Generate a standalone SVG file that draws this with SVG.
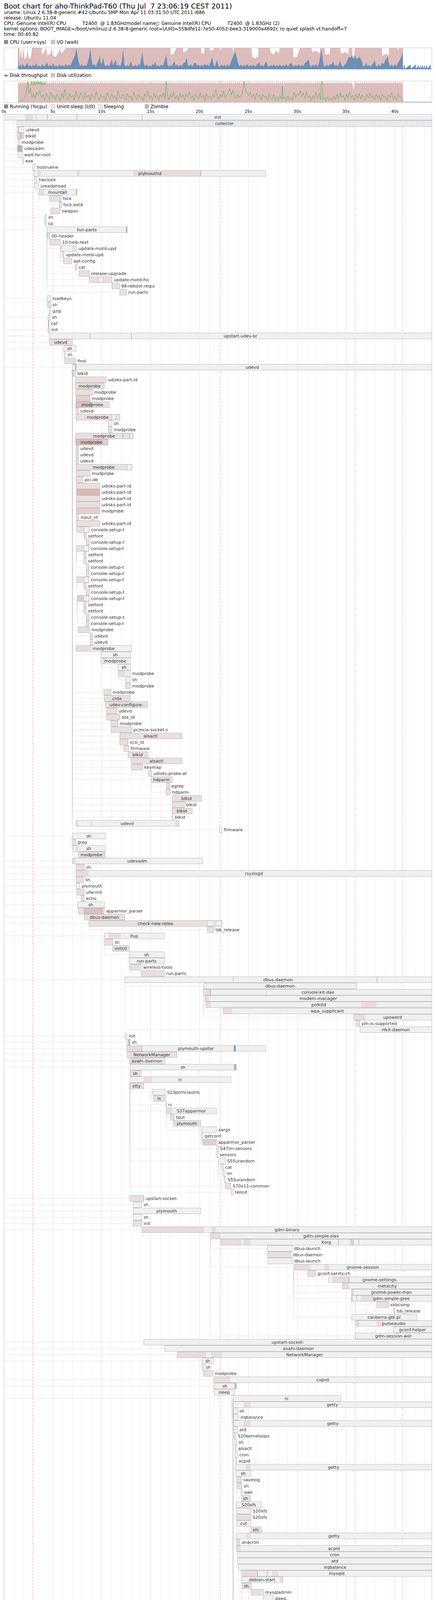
<svg xmlns="http://www.w3.org/2000/svg" width="1115" height="5356" viewBox="0 0 1115 5356">
<style>
text{font-family:"DejaVu Sans","Liberation Sans",sans-serif}
.h{font-size:12px;fill:#000}
.ti{font-size:18px;fill:#000}
.ax{font-size:10.5px;fill:#000;text-anchor:middle}
.l{font-size:11px;fill:#333}
.m{text-anchor:middle}
.e{text-anchor:end}
.b{fill:#f0f0f0;stroke:#bcbcbc}
.p{fill:#e9dfdf;stroke:#bcbcbc}
.q{fill:#e3cdcd;stroke:#bcbcbc}
.r{fill:#dbbaba;stroke:#bcbcbc}
.z{fill:#b4b4b4;stroke:#bcbcbc}
.sp{fill:#e8dcdc}
.sq{fill:#dcbfbf}
.sb{fill:#7c9cc0}
.sz{fill:#b8b8b8}
.c{fill:none;stroke:#c4c4c4;stroke-dasharray:2 2}
.g1{fill:none;stroke:#eeeeee}
.g5{fill:none;stroke:#dedede}
.an{fill:none;stroke:#e2a6a6;stroke-dasharray:5 3}
.fr{fill:none;stroke:#c6c6c6}
</style>
<defs>
<pattern id="col" width="9" height="16" patternUnits="userSpaceOnUse"><rect width="9" height="16" fill="#f0f0f0"/><path d="M2.5 0V16M6.5 0V16" stroke="#cad6e2"/></pattern>
<pattern id="saw" width="5" height="9" patternUnits="userSpaceOnUse"><path d="M0 9L1.5 1L3 6L4 3L5 9Z" fill="#ddbcbc"/></pattern>
</defs>
<rect width="1115" height="5356" fill="#fff"/>
<g id="header">
<text class="ti" x="10" y="22" xml:space="preserve">Boot chart for aho-ThinkPad-T60 (Thu Jul  7 23:06:19 CEST 2011)</text>
<text class="h" x="10" y="36">uname: Linux 2.6.38-8-generic #42-Ubuntu SMP Mon Apr 11 03:31:50 UTC 2011 i686</text>
<text class="h" x="10" y="50">release: Ubuntu 11.04</text>
<text class="h" x="10" y="64" xml:space="preserve">CPU: Genuine Intel(R) CPU           T2400  @ 1.83GHzmodel name▯: Genuine Intel(R) CPU           T2400  @ 1.83GHz (2)</text>
<text class="h" x="10" y="78">kernel options: BOOT_IMAGE=/boot/vmlinuz-2.6.38-8-generic root=UUID=558dfe12-7e50-4052-bee3-319000a4692c ro quiet splash vt.handoff=7</text>
<text class="h" x="10" y="92">time: 00:40.82</text>
</g>
<g id="cpu-chart">
<rect x="10.5" y="102.5" width="10" height="10" fill="#6b8fb5" stroke="#bcbcbc"/>
<text class="h" x="25" y="112">CPU (user+sys)</text>
<rect x="130.5" y="102.5" width="10" height="10" fill="#ddbcbc" stroke="#bcbcbc"/>
<text class="h" x="145" y="112">I/O (wait)</text>
<path class="g1" d="M35.5 122V177M60.5 122V177M85.5 122V177M110.5 122V177M160.5 122V177M185.5 122V177M210.5 122V177M235.5 122V177M285.5 122V177M310.5 122V177M335.5 122V177M360.5 122V177M410.5 122V177M435.5 122V177M460.5 122V177M485.5 122V177M535.5 122V177M560.5 122V177M585.5 122V177M610.5 122V177M660.5 122V177M685.5 122V177M710.5 122V177M735.5 122V177M785.5 122V177M810.5 122V177M835.5 122V177M860.5 122V177M910.5 122V177M935.5 122V177M960.5 122V177M985.5 122V177M1035.5 122V177M1060.5 122V177M1085.5 122V177"/>
<path class="g5" d="M135.5 122V177M260.5 122V177M385.5 122V177M510.5 122V177M635.5 122V177M760.5 122V177M885.5 122V177M1010.5 122V177"/>
<path fill="#ddbcbc" d="M46,177 L46,123 50,123 50,150 54,124 56,150 61,124 63,152 68,145 71,124 73,148 78,150 82,123 107,123 107,140 112,135 118,123 121,142 128,138 132,123 134,140 142,146 150,133 154,123 156,136 162,132 168,123 436,123 437,140 444,138 451,123 468,123 469,134 475,132 482,123 514,123 515,137 522,136 523,123 536,123 537,128 544,130 547,123 562,123 563,131 566,123 595,123 596,134 598,123 643,123 645,146 652,149 660,145 661,123 690,123 692,134 700,140 706,128 712,138 716,123 749,123 751,148 760,145 767,123 797,123 799,134 808,130 818,136 819,123 830,123 832,140 843,138 844,123 870,123 872,137 882,133 891,139 892,123 901,123 902,157 906,150 907,123 976,123 978,143 986,138 994,142 995,123 1017,123 1018,130 1020,123 1030,123 1030,177 Z"/>
<path fill="#6b8fb5" d="M46,177 L46,123 48,170 52,165 55,172 58,163 62,171 66,168 70,160 73,171 77,166 81,172 84,165 88,170 92,162 96,171 100,167 104,172 108,164 112,170 116,168 120,160 124,171 128,166 132,170 136,162 140,171 144,167 148,172 152,164 156,170 160,166 164,172 168,163 172,170 176,165 180,168 184,160 188,150 192,140 195,124 198,142 201,158 205,170 209,164 213,171 217,166 221,170 225,158 228,145 231,124 234,150 237,168 241,164 245,171 249,160 252,155 255,142 258,165 261,160 264,147 267,166 271,170 275,165 279,171 283,160 286,150 289,168 293,160 296,152 299,169 303,165 307,171 311,160 315,126 318,165 322,171 326,166 330,170 335,157 338,168 342,171 346,165 350,170 354,164 358,168 361,150 364,133 367,160 371,170 375,165 379,171 383,167 387,170 391,163 394,168 397,157 400,170 404,166 408,171 412,165 416,170 420,160 425,140 428,165 432,171 436,166 440,170 443,162 446,157 449,169 453,165 457,171 461,166 465,170 469,162 473,160 477,147 480,166 484,170 488,164 492,171 496,162 500,160 503,169 507,165 511,171 515,166 519,170 523,163 527,168 531,165 535,170 539,158 543,147 546,166 550,170 555,153 558,168 562,171 566,165 570,170 574,166 578,171 582,165 586,170 590,160 594,150 598,140 602,133 605,145 608,158 612,170 616,165 620,171 624,166 628,170 632,164 636,171 640,166 644,170 648,165 652,171 656,167 660,162 663,160 666,170 670,166 674,171 678,162 681,157 684,168 688,171 692,166 696,170 700,165 704,171 708,166 712,170 716,165 720,171 724,166 728,170 732,164 736,171 740,165 745,160 748,168 752,171 756,165 760,170 764,164 768,171 772,165 776,170 780,162 784,158 789,152 792,166 796,171 800,165 804,170 808,164 812,171 816,160 819,145 822,124 825,150 828,168 832,171 836,165 840,170 844,164 848,166 852,157 856,170 860,165 864,171 868,160 870,157 874,168 878,171 882,165 886,160 890,150 893,145 896,148 900,142 904,150 907,140 910,147 914,152 918,145 922,150 925,155 928,168 932,171 936,160 940,170 944,166 948,171 952,165 956,160 958,153 961,168 965,171 969,165 973,170 977,160 981,165 985,155 988,150 991,143 994,160 998,170 1002,165 1006,171 1010,164 1014,170 1018,160 1022,155 1026,145 1030,133 1031,176 1035,165 1036,176 1050,165 1051,176 1063,165 1064,176 1070,166 1071,176 1075,166 1076,176 1081,165 1082,176 1086,166 1087,176 1092,165 1093,176 1101,165 1102,176 1104,177 Z"/>
<path class="an" d="M84 122V177M564 122V177M908 122V177M1030 122V177"/>
<rect class="fr" x="10.5" y="122.5" width="1094" height="55"/>
</g>
<g id="disk-chart">
<path d="M10 193.5H21" stroke="#33b533" stroke-width="2"/><rect x="13" y="191" width="5" height="5" fill="#33b533"/>
<text class="h" x="25" y="197">Disk throughput</text>
<rect x="130.5" y="187.5" width="10" height="10" fill="#ddbcbc" stroke="#bcbcbc"/>
<text class="h" x="145" y="197">Disk utilization</text>
<path class="g1" d="M35.5 207V262M60.5 207V262M85.5 207V262M110.5 207V262M160.5 207V262M185.5 207V262M210.5 207V262M235.5 207V262M285.5 207V262M310.5 207V262M335.5 207V262M360.5 207V262M410.5 207V262M435.5 207V262M460.5 207V262M485.5 207V262M535.5 207V262M560.5 207V262M585.5 207V262M610.5 207V262M660.5 207V262M685.5 207V262M710.5 207V262M735.5 207V262M785.5 207V262M810.5 207V262M835.5 207V262M860.5 207V262M910.5 207V262M935.5 207V262M960.5 207V262M985.5 207V262M1035.5 207V262M1060.5 207V262M1085.5 207V262"/>
<path class="g5" d="M135.5 207V262M260.5 207V262M385.5 207V262M510.5 207V262M635.5 207V262M760.5 207V262M885.5 207V262M1010.5 207V262"/>
<rect x="46" y="216" width="984" height="46" fill="#ddbcbc"/>
<rect x="46" y="208" width="984" height="9" fill="url(#saw)"/>
<path d="M901 208L904 233L907 208Z" fill="#fff"/>
<polyline fill="none" stroke="#4cb84c" stroke-width="1" points="46,261 52,259 58,255 64,248 68,230 71,207 74,240 78,226 82,250 86,238 90,252 94,235 98,245 102,232 106,250 110,242 114,256 118,238 122,247 126,254 130,236 134,249 138,243 142,255 146,240 150,248 154,257 158,239 162,251 166,229 170,246 174,255 178,240 182,250 186,244 190,256 194,232 198,249 202,253 206,238 210,247 214,255 218,236 222,250 226,243 230,257 234,240 238,248 242,253 246,235 250,249 254,256 258,241 262,251 266,246 270,258 274,237 278,249 282,254 286,240 290,252 294,244 298,257 302,232 306,249 310,253 314,241 318,248 322,256 326,239 330,250 334,245 338,257 342,236 346,248 350,254 354,242 358,251 362,247 366,258 370,240 374,249 378,233 382,252 386,245 390,256 394,239 398,250 402,244 406,257 410,241 414,249 418,238 422,253 425,207 428,246 432,255 436,240 440,250 444,236 448,253 452,244 456,257 460,238 464,250 468,243 472,256 476,240 480,249 484,235 488,252 492,245 496,258 500,240 504,249 508,253 512,237 516,250 520,244 524,257 528,239 532,251 536,246 540,255 544,241 548,249 552,229 556,246 560,254 564,240 568,249 572,232 576,252 580,244 584,238 588,226 592,244 596,231 600,250 604,253 608,241 612,250 616,245 620,236 624,207 628,232 632,240 636,245 640,236 644,250 648,241 652,255 656,238 660,248 664,243 668,256 672,240 676,250 680,245 684,257 688,240 692,250 696,253 700,242 704,257 708,248 712,258 716,245 720,255 722,220 724,255 728,248 732,258 736,246 740,255 744,248 748,258 752,236 756,250 760,240 764,245 768,232 772,248 776,238 780,251 784,236 788,250 792,245 796,258 800,245 804,253 808,236 812,252 816,238 820,255 822,207 824,207 826,256 830,250 834,258 838,248 842,257 846,250 850,258 854,246 858,255 862,241 866,252 870,238 874,250 878,244 882,257 886,240 890,252 894,236 898,250 902,244 906,256 910,242 914,252 918,239 922,254 926,243 930,249 934,257 938,241 942,252 946,238 950,250 954,245 958,256 962,240 966,252 970,244 974,257 978,241 982,250 986,246 990,258 994,242 998,250 1002,236 1006,254 1010,245 1014,257 1018,239 1022,250 1026,248 1030,261 1105,261"/>
<text x="77" y="217" font-size="11" fill="#33b533">18MB/s</text>
<path class="an" d="M84 207V262M564 207V262M908 207V262M1030 207V262"/>
<rect class="fr" x="10.5" y="207.5" width="1094" height="55"/>
</g>
<g id="process-legend">
<rect x="10.5" y="267.5" width="10" height="10" fill="#6b8fb5" stroke="#bcbcbc"/><text class="h" x="25" y="277">Running (%cpu)</text>
<rect x="130.5" y="267.5" width="10" height="10" fill="#f2e6e6" stroke="#bcbcbc"/><text class="h" x="145" y="277">Unint.sleep (I/O)</text>
<rect x="250.5" y="267.5" width="10" height="10" fill="#ececec" stroke="#bcbcbc"/><text class="h" x="265" y="277">Sleeping</text>
<rect x="370.5" y="267.5" width="10" height="10" fill="#b4b4b4" stroke="#bcbcbc"/><text class="h" x="385" y="277">Zombie</text>
</g>
<g id="time-axis">
<text class="ax" x="10" y="289">0s</text><text class="ax" x="135" y="289">5s</text><text class="ax" x="260" y="289">10s</text><text class="ax" x="385" y="289">15s</text><text class="ax" x="510" y="289">20s</text><text class="ax" x="635" y="289">25s</text><text class="ax" x="760" y="289">30s</text><text class="ax" x="885" y="289">35s</text><text class="ax" x="1010" y="289">40s</text>
<path class="g1" d="M35.5 292V5348M60.5 292V5348M85.5 292V5348M110.5 292V5348M160.5 292V5348M185.5 292V5348M210.5 292V5348M235.5 292V5348M285.5 292V5348M310.5 292V5348M335.5 292V5348M360.5 292V5348M410.5 292V5348M435.5 292V5348M460.5 292V5348M485.5 292V5348M535.5 292V5348M560.5 292V5348M585.5 292V5348M610.5 292V5348M660.5 292V5348M685.5 292V5348M710.5 292V5348M735.5 292V5348M785.5 292V5348M810.5 292V5348M835.5 292V5348M860.5 292V5348M910.5 292V5348M935.5 292V5348M960.5 292V5348M985.5 292V5348M1035.5 292V5348M1060.5 292V5348M1085.5 292V5348"/>
<path class="g5" d="M135.5 292V5348M260.5 292V5348M385.5 292V5348M510.5 292V5348M635.5 292V5348M760.5 292V5348M885.5 292V5348M1010.5 292V5348"/>
<path class="an" d="M84 292V5348M564 292V5348M908 292V5348M1030 292V5348"/>
</g>
<g id="connectors">
<path class="c" d="M44,316H10"/><path class="c" d="M44,332H10"/><path class="c" d="M44,348H41V336H44"/><path class="c" d="M46,364H41V336H44"/><path class="c" d="M44,380H10"/><path class="c" d="M45,396H10"/><path class="c" d="M57,412H10"/><path class="c" d="M83,428H10"/><path class="c" d="M87,444H10"/><path class="c" d="M88,460H10"/><path class="c" d="M88,476H10"/><path class="c" d="M99,492H10"/><path class="c" d="M126,508H99V500"/><path class="c" d="M151,524H126V516"/><path class="c" d="M129,540H99V500"/><path class="c" d="M115,556H10"/><path class="c" d="M115,572H112V560H115"/><path class="c" d="M120,588H10"/><path class="c" d="M121,604H117V592H120"/><path class="c" d="M127,620H120V596"/><path class="c" d="M154,636H120V596"/><path class="c" d="M159,652H154V644"/><path class="c" d="M162,668H154V644"/><path class="c" d="M192,684H154V644"/><path class="c" d="M202,700H120V596"/><path class="c" d="M228,716H120V596"/><path class="c" d="M286,732H120V596"/><path class="c" d="M306,748H120V596"/><path class="c" d="M120,764H10"/><path class="c" d="M122,780H117V768H120"/><path class="c" d="M126,796H120V772"/><path class="c" d="M122,812H10"/><path class="c" d="M123,828H119V816H122"/><path class="c" d="M122,844H10"/><path class="c" d="M126,860H10"/><path class="c" d="M126,876H10"/><path class="c" d="M163,892H10"/><path class="c" d="M164,908H160V896H163"/><path class="c" d="M165,924H160V896H163"/><path class="c" d="M185,940H10"/><path class="c" d="M186,956H182V944H185"/>
<path class="c" d="M193,972H185V948"/><path class="c" d="M193,988H185V948"/><path class="c" d="M193,1004H185V948"/><path class="c" d="M194,1020H185V948"/><path class="c" d="M193,1036H185V948"/><path class="c" d="M194,1052H185V948"/><path class="c" d="M194,1068H185V948"/><path class="c" d="M277,1084H194V1076"/><path class="c" d="M277,1100H274V1088H277"/><path class="c" d="M193,1116H185V948"/><path class="c" d="M193,1132H185V948"/><path class="c" d="M194,1148H185V948"/><path class="c" d="M194,1164H185V948"/><path class="c" d="M194,1180H185V948"/><path class="c" d="M194,1196H185V948"/><path class="c" d="M194,1212H185V948"/><path class="c" d="M194,1228H185V948"/><path class="c" d="M195,1244H185V948"/><path class="c" d="M195,1260H185V948"/><path class="c" d="M195,1276H185V948"/><path class="c" d="M195,1292H185V948"/><path class="c" d="M195,1308H185V948"/><path class="c" d="M195,1324H185V948"/><path class="c" d="M195,1340H185V948"/><path class="c" d="M196,1356H185V948"/><path class="c" d="M214,1372H196V1364"/><path class="c" d="M220,1388H196V1364"/><path class="c" d="M195,1404H185V948"/><path class="c" d="M214,1420H195V1412"/><path class="c" d="M214,1436H195V1412"/><path class="c" d="M220,1452H195V1412"/><path class="c" d="M220,1468H195V1412"/><path class="c" d="M196,1484H185V948"/><path class="c" d="M214,1500H196V1492"/><path class="c" d="M220,1516H196V1492"/><path class="c" d="M197,1532H185V948"/><path class="c" d="M214,1548H197V1540"/><path class="c" d="M214,1564H197V1540"/><path class="c" d="M220,1580H197V1540"/><path class="c" d="M220,1596H197V1540"/><path class="c" d="M199,1612H185V948"/><path class="c" d="M230,1628H185V948"/><path class="c" d="M230,1644H185V948"/><path class="c" d="M194,1660H185V948"/><path class="c" d="M258,1676H194V1668"/><path class="c" d="M258,1692H255V1680H258"/><path class="c" d="M301,1708H258V1700"/><path class="c" d="M302,1724H298V1712H301"/><path class="c" d="M321,1740H302V1732"/><path class="c" d="M321,1756H318V1744H321"/>
<path class="c" d="M265,1772H185V948"/><path class="c" d="M266,1788H185V948"/><path class="c" d="M269,1804H185V948"/><path class="c" d="M272,1820H185V948"/><path class="c" d="M272,1836H185V948"/><path class="c" d="M283,1852H185V948"/><path class="c" d="M284,1868H185V948"/><path class="c" d="M306,1884H185V948"/><path class="c" d="M306,1900H185V948"/><path class="c" d="M316,1916H185V948"/><path class="c" d="M327,1932H185V948"/><path class="c" d="M336,1948H185V948"/><path class="c" d="M336,1964H185V948"/><path class="c" d="M379,1980H185V948"/><path class="c" d="M387,1996H185V948"/><path class="c" d="M425,2012H387V2004"/><path class="c" d="M424,2028H387V2004"/><path class="c" d="M440,2044H185V948"/><path class="c" d="M440,2060H185V948"/><path class="c" d="M440,2076H185V948"/><path class="c" d="M440,2092H185V948"/><path class="c" d="M194,2108H185V948"/><path class="c" d="M561,2124H185V948"/>
<path class="c" d="M185,2140H10"/><path class="c" d="M185,2156H182V2144H185"/><path class="c" d="M185,2172H182V2144H185"/><path class="c" d="M200,2188H185V2180"/><path class="c" d="M185,2204H10"/><path class="c" d="M194,2220H10"/><path class="c" d="M194,2236H10"/><path class="c" d="M194,2252H10"/><path class="c" d="M194,2268H10"/><path class="c" d="M196,2284H10"/><path class="c" d="M207,2300H196V2292"/><path class="c" d="M198,2316H10"/><path class="c" d="M200,2332H195V2320H198"/><path class="c" d="M215,2348H10"/><path class="c" d="M227,2364H10"/><path class="c" d="M530,2380H227V2372"/><path class="c" d="M267,2396H10"/><path class="c" d="M267,2412H264V2400H267"/><path class="c" d="M288,2428H267V2420"/><path class="c" d="M331,2444H267V2404"/><path class="c" d="M331,2460H328V2448H331"/><path class="c" d="M331,2476H328V2464H331"/><path class="c" d="M362,2492H331V2484"/><path class="c" d="M319,2508H10"/><path class="c" d="M521,2524H319V2516"/><path class="c" d="M521,2540H518V2528H521"/><path class="c" d="M524,2556H521V2532"/><path class="c" d="M526,2572H521V2532"/><path class="c" d="M570,2588H521V2532"/><path class="c" d="M904,2604H521V2532"/><path class="c" d="M911,2620H904V2612"/><path class="c" d="M920,2636H319V2516"/><path class="c" d="M319,2652H10"/><path class="c" d="M324,2668H10"/><path class="c" d="M324,2684H10"/><path class="c" d="M325,2700H10"/><path class="c" d="M331,2716H10"/><path class="c" d="M332,2732H10"/><path class="c" d="M332,2748H329V2736H332"/><path class="c" d="M332,2764H329V2752H332"/><path class="c" d="M332,2780H329V2768H332"/><path class="c" d="M390,2796H332V2772"/><path class="c" d="M392,2812H387V2800H390"/><path class="c" d="M424,2828H332V2772"/><path class="c" d="M425,2844H332V2772"/><path class="c" d="M435,2860H425V2852"/><path class="c" d="M443,2876H425V2852"/><path class="c" d="M515,2892H425V2852"/><path class="c" d="M515,2908H512V2896H515"/><path class="c" d="M518,2924H515V2900"/><path class="c" d="M554,2940H332V2772"/><path class="c" d="M554,2956H551V2944H554"/><path class="c" d="M558,2972H332V2772"/><path class="c" d="M567,2988H558V2980"/><path class="c" d="M570,3004H558V2980"/><path class="c" d="M573,3020H558V2980"/><path class="c" d="M576,3036H332V2772"/><path class="c" d="M591,3052H332V2772"/>
<path class="c" d="M331,3068H10"/><path class="c" d="M340,3084H10"/><path class="c" d="M340,3100H10"/><path class="c" d="M340,3116H10"/><path class="c" d="M340,3132H10"/><path class="c" d="M363,3148H10"/><path class="c" d="M538,3164H363V3156"/><path class="c" d="M564,3180H538V3172"/><path class="c" d="M683,3196H538V3172"/><path class="c" d="M684,3212H680V3200H683"/><path class="c" d="M685,3228H680V3200H683"/><path class="c" d="M751,3244H538V3172"/><path class="c" d="M787,3260H751V3252"/><path class="c" d="M840,3276H751V3252"/><path class="c" d="M875,3292H751V3252"/><path class="c" d="M898,3308H751V3252"/><path class="c" d="M898,3324H751V3252"/><path class="c" d="M963,3340H898V3332"/><path class="c" d="M1006,3356H898V3332"/><path class="c" d="M899,3372H751V3252"/><path class="c" d="M910,3388H899V3380"/><path class="c" d="M1006,3404H910V3396"/><path class="c" d="M908,3420H538V3172"/><path class="c" d="M367,3436H10"/><path class="c" d="M421,3452H10"/><path class="c" d="M453,3468H10"/><path class="c" d="M517,3484H10"/><path class="c" d="M517,3500H514V3488H517"/><path class="c" d="M520,3516H517V3508"/><path class="c" d="M546,3532H10"/><path class="c" d="M547,3548H10"/><path class="c" d="M547,3564H544V3552H547"/><path class="c" d="M596,3580H10"/>
<path class="c" d="M596,3596H593V3584H596"/><path class="c" d="M597,3612H593V3584H596"/><path class="c" d="M597,3628H594V3616H597"/><path class="c" d="M597,3644H593V3584H596"/><path class="c" d="M598,3660H593V3584H596"/><path class="c" d="M599,3676H596V3588"/><path class="c" d="M600,3692H596V3680H599"/><path class="c" d="M601,3708H596V3588"/><path class="c" d="M601,3724H596V3588"/><path class="c" d="M602,3740H596V3588"/><path class="c" d="M602,3756H596V3588"/><path class="c" d="M603,3772H596V3588"/><path class="c" d="M605,3788H600V3776H603"/><path class="c" d="M605,3804H600V3776H603"/><path class="c" d="M616,3820H605V3812"/><path class="c" d="M617,3836H605V3812"/><path class="c" d="M604,3852H596V3588"/><path class="c" d="M605,3868H601V3856H604"/><path class="c" d="M605,3884H602V3872H605"/><path class="c" d="M605,3900H602V3888H605"/><path class="c" d="M641,3916H605V3892"/><path class="c" d="M604,3932H596V3588"/><path class="c" d="M604,3948H596V3588"/><path class="c" d="M604,3964H596V3588"/><path class="c" d="M607,3980H596V3588"/><path class="c" d="M607,3996H596V3588"/><path class="c" d="M609,4012H596V3588"/><path class="c" d="M617,4028H596V3588"/><path class="c" d="M618,4044H596V3588"/><path class="c" d="M618,4060H615V4048H618"/><path class="c" d="M642,4076H618V4068"/><path class="c" d="M673,4092H618V4068"/><path class="c" d="M698,4108H618V4068"/><path class="c" d="M668,4124H596V3588"/><path class="c" d="M671,4140H596V3588"/><path class="c" d="M675,4156H596V3588"/><path class="c" d="M679,4172H596V3588"/><path class="c" d="M683,4188H596V3588"/><path class="c" d="M686,4204H683V4196"/><path class="c" d="M686,4220H683V4208H686"/><path class="c" d="M696,4236H596V3588"/><path class="c" d="M716,4252H696V4244"/><path class="c" d="M718,4268H713V4256H716"/><path class="c" d="M723,4284H596V3588"/><path class="c" d="M723,4300H720V4288H723"/><path class="c" d="M747,4316H723V4308"/><path class="c" d="M750,4332H747V4324"/><path class="c" d="M750,4348H747V4336H750"/><path class="c" d="M755,4364H750V4356"/><path class="c" d="M747,4380H723V4308"/><path class="c" d="M747,4396H723V4308"/><path class="c" d="M771,4412H723V4308"/><path class="c" d="M788,4428H723V4308"/><path class="c" d="M788,4444H723V4308"/><path class="c" d="M804,4460H788V4452"/><path class="c" d="M824,4476H723V4308"/><path class="c" d="M745,4492H596V3588"/><path class="c" d="M807,4508H745V4500"/><path class="c" d="M807,4524H804V4512H807"/><path class="c" d="M870,4540H745V4500"/><path class="c" d="M763,4556H596V3588"/><path class="c" d="M763,4572H596V3588"/><path class="c" d="M768,4588H763V4580"/><path class="c" d="M769,4604H765V4592H768"/><path class="c" d="M789,4620H769V4612"/><path class="c" d="M800,4636H789V4628"/><path class="c" d="M800,4652H797V4640H800"/><path class="c" d="M800,4668H797V4640H800"/><path class="c" d="M822,4684H789V4628"/><path class="c" d="M822,4700H789V4628"/><path class="c" d="M853,4716H789V4628"/><path class="c" d="M858,4732H596V3588"/><path class="c" d="M861,4748H858V4740"/><path class="c" d="M867,4764H596V3588"/><path class="c" d="M867,4780H864V4768H867"/><path class="c" d="M869,4796H596V3588"/>
<path class="c" d="M872,4812H10"/><path class="c" d="M872,4828H869V4816H872"/><path class="c" d="M872,4844H10"/><path class="c" d="M872,4860H10"/><path class="c" d="M936,4876H10"/><path class="c" d="M937,4892H933V4880H936"/><path class="c" d="M939,4908H934V4896H937"/><path class="c" d="M940,4924H933V4880H936"/><path class="c" d="M940,4940H933V4880H936"/><path class="c" d="M1014,4956H10"/><path class="c" d="M1021,4972H10"/>
<path class="c" d="M10,5004H7V4992H10"/><path class="c" d="M10,5020H7V4992H10"/><path class="c" d="M10,5036H7V4992H10"/><path class="c" d="M11,5052H7V4992H10"/><path class="c" d="M16,5068H10V4996"/><path class="c" d="M18,5084H10V4996"/><path class="c" d="M23,5100H10V4996"/><path class="c" d="M264,5116H23V5108"/><path class="c" d="M297,5132H23V5108"/><path class="c" d="M297,5148H294V5136H297"/><path class="c" d="M41,5164H10V4996"/><path class="c" d="M60,5180H10V4996"/><path class="c" d="M264,5196H10V4996"/><path class="c" d="M265,5212H10V4996"/><path class="c" d="M266,5228H10V4996"/><path class="c" d="M282,5244H10V4996"/><path class="c" d="M297,5260H10V4996"/><path class="c" d="M297,5276H10V4996"/><path class="c" d="M315,5292H10V4996"/><path class="c" d="M316,5308H10V4996"/><path class="c" d="M326,5324H10V4996"/><path class="c" d="M336,5340H10V4996"/>
</g>
<g id="processes">
<g id="p292"><rect class="b" x="10.5" y="292.5" width="1094" height="15"/><rect class="sp" x="64" y="293" width="20" height="14"/><rect class="sp" x="90" y="293" width="4" height="14"/><rect class="sb" x="120" y="293" width="1" height="14"/><rect class="sb" x="196" y="293" width="1" height="14"/><rect class="sb" x="363" y="293" width="1" height="14"/><text class="l m" x="557" y="304">init</text></g>
<g id="p308"><rect x="43.5" y="308.5" width="1061" height="15" fill="url(#col)" stroke="#bcbcbc"/><text class="l m" x="574" y="320">collector</text></g>
<g id="p324"><rect class="b" x="44.5" y="324.5" width="17" height="15"/><rect class="sb" x="47" y="325" width="1" height="14"/><text class="l" x="66" y="336">udevd</text></g>
<g id="p340"><rect class="p" x="44.5" y="340.5" width="16" height="15"/><rect class="sq" x="49" y="341" width="8" height="14"/><text class="l" x="65" y="352">blkid</text></g>
<g id="p356"><rect class="b" x="46.5" y="356.5" width="4" height="15"/><text class="l" x="55" y="368">modprobe</text></g>
<g id="p372"><rect class="z" x="44.5" y="372.5" width="13" height="15"/><text class="l" x="62" y="384">udevadm</text></g>
<g id="p388"><rect class="b" x="45.5" y="388.5" width="12" height="15"/><text class="l" x="62" y="400">wait-for-root</text></g>
<g id="p404"><rect class="b" x="57.5" y="404.5" width="3" height="15"/><text class="l" x="65" y="416">exe</text></g>
<g id="p420"><rect class="b" x="83.5" y="420.5" width="6" height="15"/><text class="l" x="94" y="432">hostname</text></g>
<g id="p436"><rect class="b" x="87.5" y="436.5" width="592" height="15"/><rect class="sp" x="96" y="437" width="8" height="14"/><rect class="sp" x="196" y="437" width="8" height="14"/><rect class="sp" x="341" y="437" width="172" height="14"/><rect class="sb" x="370" y="437" width="1" height="14"/><rect class="sb" x="513" y="437" width="1" height="14"/><text class="l m" x="383" y="448">plymouthd</text></g>
<g id="p452"><rect class="b" x="88.5" y="452.5" width="6" height="15"/><text class="l" x="99" y="464">hwclock</text></g>
<g id="p468"><rect class="b" x="88.5" y="468.5" width="10" height="15"/><text class="l" x="103" y="480">ureadahead</text></g>
<g id="p484"><rect class="b" x="99.5" y="484.5" width="97" height="15"/><rect class="sp" x="100" y="485" width="12" height="14"/><rect class="sp" x="157" y="485" width="8" height="14"/><rect class="sz" x="194" y="485" width="2" height="14"/><text class="l m" x="147" y="496">mountall</text></g>
<g id="p500"><rect class="p" x="126.5" y="500.5" width="30" height="15"/><rect class="b" x="152" y="501" width="4" height="14" stroke="none"/><text class="l" x="161" y="512">fsck</text></g>
<g id="p516"><rect class="p" x="151.5" y="516.5" width="6" height="15"/><text class="l" x="162" y="528">fsck.ext4</text></g>
<g id="p532"><rect class="p" x="129.5" y="532.5" width="24" height="15"/><text class="l" x="158" y="544">swapon</text></g>
<g id="p548"><rect class="b" x="115.5" y="548.5" width="3" height="15"/><text class="l" x="123" y="560">sh</text></g>
<g id="p564"><rect class="b" x="115.5" y="564.5" width="3" height="15"/><text class="l" x="123" y="576">cp</text></g>
<g id="p580"><rect class="b" x="120.5" y="580.5" width="205" height="15"/><rect class="sp" x="196" y="581" width="6" height="14"/><rect class="sz" x="322" y="581" width="3" height="14"/><text class="l m" x="222" y="592">run-parts</text></g>
<g id="p596"><rect class="p" x="121.5" y="596.5" width="6" height="15"/><text class="l" x="132" y="608">00-header</text></g>
<g id="p612"><rect class="p" x="127.5" y="612.5" width="27" height="15"/><text class="l" x="159" y="624">10-help-text</text></g>
<g id="p628"><rect class="b" x="154.5" y="628.5" width="42" height="15"/><rect class="sp" x="155" y="629" width="5" height="14"/><rect class="sp" x="185" y="629" width="8" height="14"/><text class="l" x="201" y="640">update-motd-upd</text></g>
<g id="p644"><rect class="p" x="159.5" y="644.5" width="4" height="15"/><text class="l" x="168" y="656">update-motd-upd</text></g>
<g id="p660"><rect class="p" x="162.5" y="660.5" width="21" height="15"/><text class="l" x="188" y="672">apt-config</text></g>
<g id="p676"><rect class="p" x="192.5" y="676.5" width="4" height="15"/><text class="l" x="201" y="688">cat</text></g>
<g id="p692"><rect class="p" x="202.5" y="692.5" width="26" height="15"/><text class="l" x="233" y="704">release-upgrade</text></g>
<g id="p708"><rect class="p" x="228.5" y="708.5" width="58" height="15"/><rect class="b" x="252" y="709" width="12" height="14" stroke="none"/><text class="l" x="291" y="720">update-motd-fsc</text></g>
<g id="p724"><rect class="p" x="286.5" y="724.5" width="19" height="15"/><text class="l" x="310" y="736">98-reboot-requi</text></g>
<g id="p740"><rect class="p" x="306.5" y="740.5" width="17" height="15"/><text class="l" x="328" y="752">run-parts</text></g>
<g id="p756"><rect class="b" x="120.5" y="756.5" width="9" height="15"/><text class="l" x="134" y="768">loadkeys</text></g>
<g id="p772"><rect class="p" x="122.5" y="772.5" width="7" height="15"/><text class="l" x="134" y="784">sh</text></g>
<g id="p788"><rect class="b" x="126.5" y="788.5" width="3" height="15"/><text class="l" x="134" y="800">gzip</text></g>
<g id="p804"><rect class="p" x="122.5" y="804.5" width="6" height="15"/><text class="l" x="133" y="816">sh</text></g>
<g id="p820"><rect class="z" x="123.5" y="820.5" width="2" height="15"/><text class="l" x="130" y="832">cat</text></g>
<g id="p836"><rect class="p" x="122.5" y="836.5" width="4" height="15"/><text class="l" x="131" y="848">init</text></g>
<g id="p852"><rect class="b" x="126.5" y="852.5" width="978" height="15"/><rect class="sb" x="230" y="853" width="1" height="14"/><rect class="sb" x="336" y="853" width="1" height="14"/><text class="l m" x="615" y="864">upstart-udev-br</text></g>
<g id="p868"><rect class="p" x="126.5" y="868.5" width="59" height="15"/><text class="l m" x="155" y="880">udevd</text></g>
<g id="p884"><rect class="b" x="163.5" y="884.5" width="31" height="15"/><text class="l m" x="178" y="896">sh</text></g>
<g id="p900"><rect class="b" x="164.5" y="900.5" width="3" height="15"/><text class="l" x="172" y="912">sh</text></g>
<g id="p916"><rect class="p" x="165.5" y="916.5" width="28" height="15"/><text class="l" x="198" y="928">find</text></g>
<g id="p932"><rect class="b" x="185.5" y="932.5" width="919" height="15"/><rect class="sb" x="193" y="933" width="2" height="14"/><text class="l m" x="645" y="944">udevd</text></g>
<g id="p948"><rect class="p" x="186.5" y="948.5" width="7" height="15"/><text class="l" x="198" y="960">blkid</text></g>
<g id="p964"><rect class="p" x="193.5" y="964.5" width="78" height="15"/><text class="l" x="276" y="976">udisks-part-id</text></g>
<g id="p980"><rect class="p" x="193.5" y="980.5" width="73" height="15"/><text class="l m" x="229" y="992">modprobe</text></g>
<g id="p996"><rect class="p" x="193.5" y="996.5" width="43" height="15"/><text class="l" x="241" y="1008">modprobe</text></g>
<g id="p1012"><rect class="q" x="194.5" y="1012.5" width="36" height="15"/><text class="l" x="235" y="1024">modprobe</text></g>
<g id="p1028"><rect class="p" x="193.5" y="1028.5" width="86" height="15"/><rect class="sq" x="194" y="1029" width="43" height="14"/><text class="l m" x="236" y="1040">modprobe</text></g>
<g id="p1044"><rect class="p" x="194.5" y="1044.5" width="6" height="15"/><text class="l" x="205" y="1056">udevd</text></g>
<g id="p1060"><rect class="p" x="194.5" y="1060.5" width="112" height="15"/><rect class="b" x="286" y="1061" width="10" height="14" stroke="none"/><text class="l m" x="250" y="1072">modprobe</text></g>
<g id="p1076"><rect class="b" x="277.5" y="1076.5" width="9" height="15"/><text class="l" x="291" y="1088">sh</text></g>
<g id="p1092"><rect class="p" x="277.5" y="1092.5" width="9" height="15"/><text class="l" x="291" y="1104">modprobe</text></g>
<g id="p1108"><rect class="p" x="193.5" y="1108.5" width="147" height="15"/><rect class="sb" x="314" y="1109" width="1" height="14"/><rect class="sb" x="331" y="1109" width="1" height="14"/><rect class="b" x="332" y="1109" width="8" height="14" stroke="none"/><text class="l m" x="266" y="1120">modprobe</text></g>
<g id="p1124"><rect class="r" x="193.5" y="1124.5" width="83" height="15"/><rect class="q" x="260" y="1125" width="16" height="14" stroke="none"/><text class="l m" x="234" y="1136">modprobe</text></g>
<g id="p1140"><rect class="p" x="194.5" y="1140.5" width="6" height="15"/><text class="l" x="205" y="1152">udevd</text></g>
<g id="p1156"><rect class="p" x="194.5" y="1156.5" width="6" height="15"/><text class="l" x="205" y="1168">udevd</text></g>
<g id="p1172"><rect class="p" x="194.5" y="1172.5" width="6" height="15"/><text class="l" x="205" y="1184">udevd</text></g>
<g id="p1188"><rect class="p" x="194.5" y="1188.5" width="143" height="15"/><rect class="b" x="325" y="1189" width="12" height="14" stroke="none"/><text class="l m" x="265" y="1200">modprobe</text></g>
<g id="p1204"><rect class="p" x="194.5" y="1204.5" width="36" height="15"/><text class="l" x="235" y="1216">modprobe</text></g>
<g id="p1220"><rect class="p" x="194.5" y="1220.5" width="18" height="15"/><text class="l" x="217" y="1232">pci-db</text></g>
<g id="p1236"><rect class="p" x="195.5" y="1236.5" width="60" height="15"/><text class="l" x="260" y="1248">udisks-part-id</text></g>
<g id="p1252"><rect class="r" x="195.5" y="1252.5" width="60" height="15"/><text class="l" x="260" y="1264">udisks-part-id</text></g>
<g id="p1268"><rect class="p" x="195.5" y="1268.5" width="60" height="15"/><text class="l" x="260" y="1280">udisks-part-id</text></g>
<g id="p1284"><rect class="p" x="195.5" y="1284.5" width="60" height="15"/><text class="l" x="260" y="1296">udisks-part-id</text></g>
<g id="p1300"><rect class="q" x="195.5" y="1300.5" width="60" height="15"/><text class="l" x="260" y="1312">modprobe</text></g>
<g id="p1316"><rect class="p" x="195.5" y="1316.5" width="6" height="15"/><text class="l" x="206" y="1328">input_id</text></g>
<g id="p1332"><rect class="p" x="195.5" y="1332.5" width="60" height="15"/><text class="l" x="260" y="1344">udisks-part-id</text></g>
<g id="p1348"><rect class="p" x="196.5" y="1348.5" width="32" height="15"/><rect class="b" x="214" y="1349" width="14" height="14" stroke="none"/><text class="l" x="233" y="1360">console-setup-t</text></g>
<g id="p1364"><rect class="p" x="214.5" y="1364.5" width="6" height="15"/><text class="l" x="225" y="1376">setfont</text></g>
<g id="p1380"><rect class="p" x="220.5" y="1380.5" width="8" height="15"/><text class="l" x="233" y="1392">console-setup-t</text></g>
<g id="p1396"><rect class="p" x="195.5" y="1396.5" width="32" height="15"/><rect class="b" x="214" y="1397" width="13" height="14" stroke="none"/><text class="l" x="232" y="1408">console-setup-t</text></g>
<g id="p1412"><rect class="p" x="214.5" y="1412.5" width="6" height="15"/><text class="l" x="225" y="1424">setfont</text></g>
<g id="p1428"><rect class="p" x="214.5" y="1428.5" width="6" height="15"/><text class="l" x="225" y="1440">setfont</text></g>
<g id="p1444"><rect class="p" x="220.5" y="1444.5" width="7" height="15"/><text class="l" x="232" y="1456">console-setup-t</text></g>
<g id="p1460"><rect class="p" x="220.5" y="1460.5" width="7" height="15"/><text class="l" x="232" y="1472">console-setup-t</text></g>
<g id="p1476"><rect class="p" x="196.5" y="1476.5" width="31" height="15"/><rect class="b" x="214" y="1477" width="13" height="14" stroke="none"/><text class="l" x="232" y="1488">console-setup-t</text></g>
<g id="p1492"><rect class="p" x="214.5" y="1492.5" width="6" height="15"/><text class="l" x="225" y="1504">setfont</text></g>
<g id="p1508"><rect class="p" x="220.5" y="1508.5" width="8" height="15"/><text class="l" x="233" y="1520">console-setup-t</text></g>
<g id="p1524"><rect class="q" x="197.5" y="1524.5" width="31" height="15"/><rect class="b" x="214" y="1525" width="14" height="14" stroke="none"/><text class="l" x="233" y="1536">console-setup-t</text></g>
<g id="p1540"><rect class="p" x="214.5" y="1540.5" width="6" height="15"/><text class="l" x="225" y="1552">setfont</text></g>
<g id="p1556"><rect class="p" x="214.5" y="1556.5" width="6" height="15"/><text class="l" x="225" y="1568">setfont</text></g>
<g id="p1572"><rect class="p" x="220.5" y="1572.5" width="8" height="15"/><text class="l" x="233" y="1584">console-setup-t</text></g>
<g id="p1588"><rect class="p" x="220.5" y="1588.5" width="7" height="15"/><text class="l" x="232" y="1600">console-setup-t</text></g>
<g id="p1604"><rect class="p" x="199.5" y="1604.5" width="30" height="15"/><text class="l" x="234" y="1616">modprobe</text></g>
<g id="p1620"><rect class="p" x="230.5" y="1620.5" width="6" height="15"/><text class="l" x="241" y="1632">udevd</text></g>
<g id="p1636"><rect class="p" x="230.5" y="1636.5" width="6" height="15"/><text class="l" x="241" y="1648">udevd</text></g>
<g id="p1652"><rect class="b" x="194.5" y="1652.5" width="142" height="15"/><rect class="sp" x="195" y="1653" width="38" height="14"/><text class="l m" x="265" y="1664">modprobe</text></g>
<g id="p1668"><rect class="b" x="258.5" y="1668.5" width="75" height="15"/><text class="l m" x="295" y="1680">sh</text></g>
<g id="p1684"><rect class="b" x="258.5" y="1684.5" width="75" height="15"/><rect class="sp" x="262" y="1685" width="8" height="14"/><text class="l m" x="295" y="1696">modprobe</text></g>
<g id="p1700"><rect class="b" x="301.5" y="1700.5" width="32" height="15"/><text class="l m" x="317" y="1712">sh</text></g>
<g id="p1716"><rect class="b" x="302.5" y="1716.5" width="31" height="15"/><rect class="sp" x="303" y="1717" width="17" height="14"/><text class="l" x="338" y="1728">modprobe</text></g>
<g id="p1732"><rect class="b" x="321.5" y="1732.5" width="12" height="15"/><text class="l" x="338" y="1744">sh</text></g>
<g id="p1748"><rect class="p" x="321.5" y="1748.5" width="12" height="15"/><text class="l" x="338" y="1760">modprobe</text></g>
<g id="p1764"><rect class="p" x="265.5" y="1764.5" width="18" height="15"/><text class="l" x="288" y="1776">modprobe</text></g>
<g id="p1780"><rect class="p" x="266.5" y="1780.5" width="67" height="15"/><text class="l m" x="299" y="1792">crda</text></g>
<g id="p1796"><rect class="p" x="269.5" y="1796.5" width="108" height="15"/><text class="l m" x="323" y="1808">udev-configure-</text></g>
<g id="p1812"><rect class="p" x="272.5" y="1812.5" width="26" height="15"/><text class="l" x="303" y="1824">udevd</text></g>
<g id="p1828"><rect class="p" x="272.5" y="1828.5" width="34" height="15"/><text class="l" x="311" y="1840">ata_id</text></g>
<g id="p1844"><rect class="p" x="283.5" y="1844.5" width="18" height="15"/><text class="l" x="306" y="1856">modprobe</text></g>
<g id="p1860"><rect class="p" x="284.5" y="1860.5" width="52" height="15"/><text class="l" x="341" y="1872">pcmcia-socket-s</text></g>
<g id="p1876"><rect class="p" x="306.5" y="1876.5" width="159" height="15"/><rect class="b" x="462" y="1877" width="3" height="14" stroke="none"/><text class="l m" x="385" y="1888">alsactl</text></g>
<g id="p1892"><rect class="p" x="306.5" y="1892.5" width="21" height="15"/><text class="l" x="332" y="1904">scsi_id</text></g>
<g id="p1908"><rect class="p" x="316.5" y="1908.5" width="13" height="15"/><text class="l" x="334" y="1920">firmware</text></g>
<g id="p1924"><rect class="p" x="327.5" y="1924.5" width="51" height="15"/><text class="l m" x="352" y="1936">blkid</text></g>
<g id="p1940"><rect class="p" x="336.5" y="1940.5" width="129" height="15"/><text class="l m" x="400" y="1952">alsactl</text></g>
<g id="p1956"><rect class="p" x="336.5" y="1956.5" width="28" height="15"/><text class="l" x="369" y="1968">keymap</text></g>
<g id="p1972"><rect class="p" x="379.5" y="1972.5" width="8" height="15"/><text class="l" x="392" y="1984">udisks-probe-at</text></g>
<g id="p1988"><rect class="p" x="387.5" y="1988.5" width="53" height="15"/><text class="l m" x="413" y="2000">hdparm</text></g>
<g id="p2004"><rect class="p" x="425.5" y="2004.5" width="8" height="15"/><text class="l" x="438" y="2016">egrep</text></g>
<g id="p2020"><rect class="p" x="424.5" y="2020.5" width="11" height="15"/><text class="l" x="440" y="2032">hdparm</text></g>
<g id="p2036"><rect class="p" x="440.5" y="2036.5" width="75" height="15"/><text class="l m" x="477" y="2048">blkid</text></g>
<g id="p2052"><rect class="p" x="440.5" y="2052.5" width="31" height="15"/><text class="l" x="476" y="2064">blkid</text></g>
<g id="p2068"><rect class="p" x="440.5" y="2068.5" width="51" height="15"/><text class="l m" x="465" y="2080">blkid</text></g>
<g id="p2084"><rect class="b" x="440.5" y="2084.5" width="2" height="15"/><text class="l" x="447" y="2096">blkid</text></g>
<g id="p2100"><rect class="b" x="194.5" y="2100.5" width="263" height="15"/><rect class="sp" x="195" y="2101" width="5" height="14"/><rect class="sp" x="232" y="2101" width="4" height="14"/><rect class="sp" x="448" y="2101" width="9" height="14"/><text class="l m" x="325" y="2112">udevd</text></g>
<g id="p2116"><rect class="b" x="561.5" y="2116.5" width="6" height="15"/><text class="l" x="572" y="2128">firmware</text></g>
<g id="p2132"><rect class="b" x="185.5" y="2132.5" width="84" height="15"/><text class="l m" x="227" y="2144">sh</text></g>
<g id="p2148"><rect class="p" x="185.5" y="2148.5" width="8" height="15"/><text class="l" x="198" y="2160">grep</text></g>
<g id="p2164"><rect class="b" x="185.5" y="2164.5" width="84" height="15"/><rect class="sp" x="193" y="2165" width="7" height="14"/><text class="l m" x="227" y="2176">sh</text></g>
<g id="p2180"><rect class="p" x="200.5" y="2180.5" width="68" height="15"/><text class="l m" x="234" y="2192">modprobe</text></g>
<g id="p2196"><rect class="b" x="185.5" y="2196.5" width="332" height="15"/><rect class="sp" x="186" y="2197" width="7" height="14"/><text class="l m" x="351" y="2208">udevadm</text></g>
<g id="p2212"><rect class="p" x="194.5" y="2212.5" width="21" height="15"/><text class="l" x="220" y="2224">sh</text></g>
<g id="p2228"><rect class="b" x="194.5" y="2228.5" width="910" height="15"/><rect class="sp" x="195" y="2229" width="32" height="14"/><text class="l m" x="649" y="2240">rsyslogd</text></g>
<g id="p2244"><rect class="p" x="194.5" y="2244.5" width="19" height="15"/><text class="l" x="218" y="2256">sh</text></g>
<g id="p2260"><rect class="b" x="194.5" y="2260.5" width="10" height="15"/><text class="l" x="209" y="2272">plymouth</text></g>
<g id="p2276"><rect class="p" x="196.5" y="2276.5" width="19" height="15"/><text class="l" x="220" y="2288">ufw-init</text></g>
<g id="p2292"><rect class="p" x="207.5" y="2292.5" width="8" height="15"/><text class="l" x="220" y="2304">echo</text></g>
<g id="p2308"><rect class="b" x="198.5" y="2308.5" width="69" height="15"/><text class="l m" x="232" y="2320">sh</text></g>
<g id="p2324"><rect class="p" x="200.5" y="2324.5" width="66" height="15"/><rect class="sq" x="214" y="2325" width="49" height="14"/><text class="l" x="271" y="2336">apparmor_parser</text></g>
<g id="p2340"><rect class="p" x="215.5" y="2340.5" width="104" height="15"/><text class="l m" x="267" y="2352">dbus-daemon</text></g>
<g id="p2356"><rect class="p" x="227.5" y="2356.5" width="340" height="15"/><rect class="b" x="530" y="2357" width="37" height="14" stroke="none"/><rect class="sp" x="546" y="2357" width="8" height="14"/><text class="l m" x="397" y="2368">check-new-relea</text></g>
<g id="p2372"><rect class="p" x="530.5" y="2372.5" width="16" height="15"/><text class="l" x="551" y="2384">lsb_release</text></g>
<g id="p2388"><rect class="b" x="267.5" y="2388.5" width="153" height="15"/><rect class="sp" x="278" y="2389" width="31" height="14"/><text class="l m" x="343" y="2400">ifup</text></g>
<g id="p2404"><rect class="p" x="267.5" y="2404.5" width="21" height="15"/><text class="l" x="293" y="2416">sh</text></g>
<g id="p2420"><rect class="p" x="288.5" y="2420.5" width="43" height="15"/><text class="l m" x="309" y="2432">initctl</text></g>
<g id="p2436"><rect class="b" x="331.5" y="2436.5" width="89" height="15"/><text class="l m" x="375" y="2448">sh</text></g>
<g id="p2452"><rect class="b" x="331.5" y="2452.5" width="89" height="15"/><text class="l m" x="375" y="2464">run-parts</text></g>
<g id="p2468"><rect class="p" x="331.5" y="2468.5" width="30" height="15"/><text class="l" x="366" y="2480">wireless-tools</text></g>
<g id="p2484"><rect class="p" x="362.5" y="2484.5" width="58" height="15"/><text class="l" x="425" y="2496">run-parts</text></g>
<g id="p2500"><rect class="b" x="319.5" y="2500.5" width="785" height="15"/><rect class="sz" x="596" y="2501" width="1" height="14"/><rect class="sb" x="964" y="2501" width="1" height="14"/><text class="l m" x="711" y="2512">dbus-daemon</text></g>
<g id="p2516"><rect class="b" x="521.5" y="2516.5" width="390" height="15"/><text class="l m" x="716" y="2528">dbus-daemon</text></g>
<g id="p2532"><rect class="b" x="521.5" y="2532.5" width="583" height="15"/><rect class="sp" x="525" y="2533" width="14" height="14"/><rect class="sb" x="538" y="2533" width="1" height="14"/><rect class="sp" x="680" y="2533" width="2" height="14"/><text class="l m" x="813" y="2544">console-kit-dae</text></g>
<g id="p2548"><rect class="b" x="524.5" y="2548.5" width="580" height="15"/><rect class="sp" x="525" y="2549" width="10" height="14"/><text class="l m" x="814" y="2560">modem-manager</text></g>
<g id="p2564"><rect class="b" x="526.5" y="2564.5" width="578" height="15"/><rect class="sp" x="527" y="2565" width="12" height="14"/><rect class="sp" x="923" y="2565" width="40" height="14"/><text class="l m" x="815" y="2576">polkitd</text></g>
<g id="p2580"><rect class="b" x="570.5" y="2580.5" width="534" height="15"/><rect class="sp" x="571" y="2581" width="22" height="14"/><text class="l m" x="837" y="2592">wpa_supplicant</text></g>
<g id="p2596"><rect class="b" x="904.5" y="2596.5" width="200" height="15"/><rect class="sp" x="905" y="2597" width="30" height="14"/><text class="l m" x="1004" y="2608">upowerd</text></g>
<g id="p2612"><rect class="p" x="911.5" y="2612.5" width="9" height="15"/><text class="l" x="925" y="2624">pm-is-supported</text></g>
<g id="p2628"><rect class="b" x="920.5" y="2628.5" width="184" height="15"/><text class="l m" x="1012" y="2640">rtkit-daemon</text></g>
<g id="p2644"><rect class="b" x="319.5" y="2644.5" width="5" height="15"/><text class="l" x="329" y="2656">init</text></g>
<g id="p2660"><rect class="b" x="324.5" y="2660.5" width="8" height="15"/><rect class="sz" x="328" y="2661" width="4" height="14"/><text class="l" x="337" y="2672">sh</text></g>
<g id="p2676"><rect class="b" x="324.5" y="2676.5" width="355" height="15"/><rect class="sp" x="325" y="2677" width="37" height="14"/><rect class="sb" x="362" y="2677" width="1" height="14"/><rect class="sb" x="598" y="2677" width="5" height="14"/><text class="l m" x="501" y="2688">plymouth-upstar</text></g>
<g id="p2692"><rect class="p" x="325.5" y="2692.5" width="127" height="15"/><text class="l m" x="388" y="2704">NetworkManager</text></g>
<g id="p2708"><rect class="b" x="331.5" y="2708.5" width="91" height="15"/><rect class="sp" x="332" y="2709" width="30" height="14"/><text class="l m" x="376" y="2720">avahi-daemon</text></g>
<g id="p2724"><rect class="b" x="332.5" y="2724.5" width="272" height="15"/><rect class="sz" x="598" y="2725" width="6" height="14"/><text class="l m" x="468" y="2736">sh</text></g>
<g id="p2740"><rect class="p" x="332.5" y="2740.5" width="29" height="15"/><text class="l m" x="346" y="2752">sh</text></g>
<g id="p2756"><rect class="b" x="332.5" y="2756.5" width="258" height="15"/><rect class="sp" x="367" y="2757" width="22" height="14"/><text class="l m" x="461" y="2768">rc</text></g>
<g id="p2772"><rect class="p" x="332.5" y="2772.5" width="35" height="15"/><text class="l m" x="349" y="2784">stty</text></g>
<g id="p2788"><rect class="b" x="390.5" y="2788.5" width="32" height="15"/><text class="l" x="427" y="2800">S13pcmciautils</text></g>
<g id="p2804"><rect class="p" x="392.5" y="2804.5" width="30" height="15"/><text class="l m" x="407" y="2816">ls</text></g>
<g id="p2820"><rect class="b" x="424.5" y="2820.5" width="1" height="15"/><text class="l" x="430" y="2832">rc</text></g>
<g id="p2836"><rect class="b" x="425.5" y="2836.5" width="128" height="15"/><rect class="sp" x="426" y="2837" width="14" height="14"/><text class="l m" x="489" y="2848">S37apparmor</text></g>
<g id="p2852"><rect class="p" x="435.5" y="2852.5" width="10" height="15"/><text class="l" x="450" y="2864">tput</text></g>
<g id="p2868"><rect class="p" x="443.5" y="2868.5" width="70" height="15"/><text class="l m" x="478" y="2880">plymouth</text></g>
<g id="p2884"><rect class="b" x="515.5" y="2884.5" width="38" height="15"/><text class="l" x="558" y="2896">xargs</text></g>
<g id="p2900"><rect class="b" x="515.5" y="2900.5" width="3" height="15"/><text class="l" x="523" y="2912">getconf</text></g>
<g id="p2916"><rect class="q" x="518.5" y="2916.5" width="35" height="15"/><text class="l" x="558" y="2928">apparmor_parser</text></g>
<g id="p2932"><rect class="b" x="554.5" y="2932.5" width="4" height="15"/><text class="l" x="563" y="2944">S47lm-sensors</text></g>
<g id="p2948"><rect class="b" x="554.5" y="2948.5" width="3" height="15"/><text class="l" x="562" y="2960">sensors</text></g>
<g id="p2964"><rect class="b" x="558.5" y="2964.5" width="18" height="15"/><text class="l" x="581" y="2976">S55urandom</text></g>
<g id="p2980"><rect class="b" x="567.5" y="2980.5" width="4" height="15"/><text class="l" x="576" y="2992">cat</text></g>
<g id="p2996"><rect class="b" x="570.5" y="2996.5" width="4" height="15"/><text class="l" x="579" y="3008">rm</text></g>
<g id="p3012"><rect class="b" x="573.5" y="3012.5" width="4" height="15"/><text class="l" x="582" y="3024">S55urandom</text></g>
<g id="p3028"><rect class="p" x="576.5" y="3028.5" width="14" height="15"/><text class="l" x="595" y="3040">S70x11-common</text></g>
<g id="p3044"><rect class="b" x="591.5" y="3044.5" width="5" height="15"/><text class="l" x="601" y="3056">telinit</text></g>
<g id="p3060"><rect class="p" x="331.5" y="3060.5" width="36" height="15"/><text class="l" x="372" y="3072">upstart-socket-</text></g>
<g id="p3076"><rect class="b" x="340.5" y="3076.5" width="22" height="15"/><text class="l" x="367" y="3088">sh</text></g>
<g id="p3092"><rect class="b" x="340.5" y="3092.5" width="173" height="15"/><text class="l m" x="426" y="3104">plymouth</text></g>
<g id="p3108"><rect class="b" x="340.5" y="3108.5" width="22" height="15"/><text class="l" x="367" y="3120">sh</text></g>
<g id="p3124"><rect class="p" x="340.5" y="3124.5" width="22" height="15"/><text class="l" x="367" y="3136">init</text></g>
<g id="p3140"><rect class="b" x="363.5" y="3140.5" width="741" height="15"/><rect class="sp" x="364" y="3141" width="157" height="14"/><rect class="sp" x="541" y="3141" width="11" height="14"/><text class="l m" x="734" y="3152">gdm-binary</text></g>
<g id="p3156"><rect class="b" x="538.5" y="3156.5" width="566" height="15"/><rect class="sp" x="539" y="3157" width="25" height="14"/><rect class="sp" x="748" y="3157" width="2" height="14"/><text class="l m" x="821" y="3168">gdm-simple-slav</text></g>
<g id="p3172"><rect class="b" x="564.5" y="3172.5" width="540" height="15"/><rect class="sp" x="565" y="3173" width="52" height="14"/><rect class="sp" x="623" y="3173" width="17" height="14"/><rect class="sb" x="865" y="3173" width="1" height="14"/><rect class="sb" x="897" y="3173" width="1" height="14"/><rect class="sb" x="900" y="3173" width="1" height="14"/><rect class="sb" x="903" y="3173" width="1" height="14"/><rect class="sb" x="917" y="3173" width="1" height="14"/><text class="l m" x="834" y="3184">Xorg</text></g>
<g id="p3188"><rect class="b" x="683.5" y="3188.5" width="64" height="15"/><text class="l" x="752" y="3200">dbus-launch</text></g>
<g id="p3204"><rect class="p" x="684.5" y="3204.5" width="60" height="15"/><text class="l" x="749" y="3216">dbus-daemon</text></g>
<g id="p3220"><rect class="b" x="685.5" y="3220.5" width="62" height="15"/><text class="l" x="752" y="3232">dbus-launch</text></g>
<g id="p3236"><rect class="b" x="751.5" y="3236.5" width="353" height="15"/><rect class="sp" x="752" y="3237" width="43" height="14"/><rect class="sp" x="830" y="3237" width="11" height="14"/><text class="l m" x="928" y="3248">gnome-session</text></g>
<g id="p3252"><rect class="p" x="787.5" y="3252.5" width="20" height="15"/><text class="l" x="812" y="3264">gconf-sanity-ch</text></g>
<g id="p3268"><rect class="b" x="840.5" y="3268.5" width="264" height="15"/><rect class="sp" x="850" y="3269" width="42" height="14"/><rect class="sb" x="892" y="3269" width="1" height="14"/><text class="l m" x="972" y="3280">gnome-settings-</text></g>
<g id="p3284"><rect class="b" x="875.5" y="3284.5" width="229" height="15"/><rect class="sp" x="876" y="3285" width="17" height="14"/><rect class="sp" x="1012" y="3285" width="4" height="14"/><text class="l m" x="990" y="3296">metacity</text></g>
<g id="p3300"><rect class="b" x="898.5" y="3300.5" width="206" height="15"/><rect class="sb" x="902" y="3301" width="1" height="14"/><text class="l m" x="1001" y="3312">gnome-power-man</text></g>
<g id="p3316"><rect class="b" x="898.5" y="3316.5" width="206" height="15"/><rect class="sb" x="900" y="3317" width="1" height="14"/><rect class="sb" x="912" y="3317" width="1" height="14"/><rect class="sp" x="923" y="3317" width="34" height="14"/><text class="l m" x="1001" y="3328">gdm-simple-gree</text></g>
<g id="p3332"><rect class="p" x="963.5" y="3332.5" width="30" height="15"/><text class="l" x="998" y="3344">xkbcomp</text></g>
<g id="p3348"><rect class="b" x="1006.5" y="3348.5" width="3" height="15"/><text class="l" x="1014" y="3360">lsb_release</text></g>
<g id="p3364"><rect class="b" x="899.5" y="3364.5" width="166" height="15"/><text class="l m" x="982" y="3376">canberra-gtk-pl</text></g>
<g id="p3380"><rect class="b" x="910.5" y="3380.5" width="194" height="15"/><rect class="sp" x="911" y="3381" width="8" height="14"/><rect class="sp" x="963" y="3381" width="17" height="14"/><text class="l m" x="1007" y="3392">pulseaudio</text></g>
<g id="p3396"><rect class="b" x="1006.5" y="3396.5" width="98" height="15"/><text class="l m" x="1055" y="3408">gconf-helper</text></g>
<g id="p3412"><rect class="b" x="908.5" y="3412.5" width="196" height="15"/><text class="l m" x="1006" y="3424">gdm-session-wor</text></g>
<g id="p3428"><rect class="b" x="367.5" y="3428.5" width="737" height="15"/><text class="l m" x="736" y="3440">upstart-socket-</text></g>
<g id="p3444"><rect class="b" x="421.5" y="3444.5" width="683" height="15"/><text class="l m" x="763" y="3456">avahi-daemon</text></g>
<g id="p3460"><rect class="b" x="453.5" y="3460.5" width="651" height="15"/><rect class="sp" x="454" y="3461" width="73" height="14"/><rect class="sp" x="540" y="3461" width="28" height="14"/><text class="l m" x="779" y="3472">NetworkManager</text></g>
<g id="p3476"><rect class="b" x="517.5" y="3476.5" width="29" height="15"/><text class="l m" x="531" y="3488">sh</text></g>
<g id="p3492"><rect class="b" x="517.5" y="3492.5" width="4" height="15"/><text class="l" x="526" y="3504">sh</text></g>
<g id="p3508"><rect class="p" x="520.5" y="3508.5" width="24" height="15"/><text class="l" x="549" y="3520">modprobe</text></g>
<g id="p3524"><rect class="b" x="546.5" y="3524.5" width="558" height="15"/><rect class="sp" x="548" y="3525" width="40" height="14"/><text class="l m" x="825" y="3536">cupsd</text></g>
<g id="p3540"><rect class="b" x="547.5" y="3540.5" width="57" height="15"/><rect class="sz" x="600" y="3541" width="4" height="14"/><text class="l m" x="575" y="3552">sh</text></g>
<g id="p3556"><rect class="b" x="547.5" y="3556.5" width="52" height="15"/><text class="l m" x="573" y="3568">sleep</text></g>
<g id="p3572"><rect class="b" x="596.5" y="3572.5" width="275" height="15"/><text class="l m" x="733" y="3584">rc</text></g>
<g id="p3588"><rect class="b" x="596.5" y="3588.5" width="508" height="15"/><rect class="sp" x="623" y="3589" width="18" height="14"/><text class="l m" x="850" y="3600">getty</text></g>
<g id="p3604"><rect class="b" x="597.5" y="3604.5" width="10" height="15"/><text class="l" x="612" y="3616">sh</text></g>
<g id="p3620"><rect class="b" x="597.5" y="3620.5" width="13" height="15"/><text class="l" x="615" y="3632">irqbalance</text></g>
<g id="p3636"><rect class="b" x="597.5" y="3636.5" width="507" height="15"/><rect class="sp" x="623" y="3637" width="18" height="14"/><text class="l m" x="851" y="3648">getty</text></g>
<g id="p3652"><rect class="b" x="598.5" y="3652.5" width="9" height="15"/><text class="l" x="612" y="3664">atd</text></g>
<g id="p3668"><rect class="b" x="599.5" y="3668.5" width="4" height="15"/><text class="l" x="608" y="3680">S20kerneloops</text></g>
<g id="p3684"><rect class="b" x="600.5" y="3684.5" width="5" height="15"/><text class="l" x="610" y="3696">sh</text></g>
<g id="p3700"><rect class="b" x="601.5" y="3700.5" width="3" height="15"/><text class="l" x="609" y="3712">alsactl</text></g>
<g id="p3716"><rect class="b" x="601.5" y="3716.5" width="6" height="15"/><text class="l" x="612" y="3728">cron</text></g>
<g id="p3732"><rect class="b" x="602.5" y="3732.5" width="3" height="15"/><text class="l" x="610" y="3744">acpid</text></g>
<g id="p3748"><rect class="b" x="602.5" y="3748.5" width="502" height="15"/><rect class="sp" x="629" y="3749" width="12" height="14"/><text class="l m" x="853" y="3760">getty</text></g>
<g id="p3764"><rect class="b" x="603.5" y="3764.5" width="38" height="15"/><text class="l m" x="622" y="3776">sh</text></g>
<g id="p3780"><rect class="p" x="605.5" y="3780.5" width="12" height="15"/><text class="l" x="622" y="3792">savelog</text></g>
<g id="p3796"><rect class="p" x="605.5" y="3796.5" width="13" height="15"/><text class="l" x="623" y="3808">sh</text></g>
<g id="p3812"><rect class="b" x="616.5" y="3812.5" width="3" height="15"/><text class="l" x="624" y="3824">awk</text></g>
<g id="p3828"><rect class="p" x="617.5" y="3828.5" width="23" height="15"/><text class="l m" x="628" y="3840">sh</text></g>
<g id="p3844"><rect class="b" x="604.5" y="3844.5" width="64" height="15"/><text class="l m" x="636" y="3856">S20xfs</text></g>
<g id="p3860"><rect class="b" x="605.5" y="3860.5" width="36" height="15"/><text class="l" x="646" y="3872">S20xfs</text></g>
<g id="p3876"><rect class="p" x="605.5" y="3876.5" width="36" height="15"/><text class="l" x="646" y="3888">S20xfs</text></g>
<g id="p3892"><rect class="b" x="605.5" y="3892.5" width="36" height="15"/><text class="l m" x="623" y="3904">cut</text></g>
<g id="p3908"><rect class="p" x="641.5" y="3908.5" width="27" height="15"/><text class="l m" x="654" y="3920">xfs</text></g>
<g id="p3924"><rect class="b" x="604.5" y="3924.5" width="500" height="15"/><rect class="sp" x="630" y="3925" width="11" height="14"/><text class="l m" x="854" y="3936">getty</text></g>
<g id="p3940"><rect class="p" x="604.5" y="3940.5" width="9" height="15"/><text class="l" x="618" y="3952">anacron</text></g>
<g id="p3956"><rect class="b" x="604.5" y="3956.5" width="500" height="15"/><rect class="sp" x="605" y="3957" width="10" height="14"/><text class="l m" x="854" y="3968">acpid</text></g>
<g id="p3972"><rect class="b" x="607.5" y="3972.5" width="497" height="15"/><text class="l m" x="856" y="3984">cron</text></g>
<g id="p3988"><rect class="b" x="607.5" y="3988.5" width="497" height="15"/><text class="l m" x="856" y="4000">atd</text></g>
<g id="p4004"><rect class="b" x="609.5" y="4004.5" width="495" height="15"/><text class="l m" x="857" y="4016">irqbalance</text></g>
<g id="p4020"><rect class="b" x="617.5" y="4020.5" width="487" height="15"/><rect class="sp" x="619" y="4021" width="39" height="14"/><rect class="sb" x="658" y="4021" width="1" height="14"/><rect class="sp" x="681" y="4021" width="5" height="14"/><rect class="sp" x="697" y="4021" width="15" height="14"/><text class="l m" x="861" y="4032">mysqld</text></g>
<g id="p4036"><rect class="b" x="618.5" y="4036.5" width="105" height="15"/><rect class="sp" x="716" y="4037" width="7" height="14"/><text class="l m" x="670" y="4048">debian-start</text></g>
<g id="p4052"><rect class="p" x="618.5" y="4052.5" width="24" height="15"/><text class="l m" x="630" y="4064">sh</text></g>
<g id="p4068"><rect class="p" x="642.5" y="4068.5" width="31" height="15"/><text class="l" x="678" y="4080">mysqladmin</text></g>
<g id="p4084"><rect class="b" x="673.5" y="4084.5" width="25" height="15"/><text class="l" x="703" y="4096">sleep</text></g>
<g id="p4100"><rect class="b" x="698.5" y="4100.5" width="18" height="15"/><text class="l" x="721" y="4112">mysqladmin</text></g>
<g id="p4116"><rect class="b" x="668.5" y="4116.5" width="436" height="15"/><text class="l m" x="886" y="4128">xfs</text></g>
<g id="p4132"><rect class="b" x="671.5" y="4132.5" width="5" height="15"/><text class="l" x="681" y="4144">S50saned</text></g>
<g id="p4148"><rect class="b" x="675.5" y="4148.5" width="5" height="15"/><text class="l" x="685" y="4160">0000usepeerdns</text></g>
<g id="p4164"><rect class="b" x="679.5" y="4164.5" width="5" height="15"/><text class="l" x="689" y="4176">S75sudo</text></g>
<g id="p4180"><rect class="b" x="683.5" y="4180.5" width="13" height="15"/><text class="l" x="701" y="4192">S90binfmt-suppo</text></g>
<g id="p4196"><rect class="b" x="686.5" y="4196.5" width="10" height="15"/><text class="l" x="701" y="4208">update-binfmts</text></g>
<g id="p4212"><rect class="q" x="686.5" y="4212.5" width="7" height="15"/><text class="l" x="698" y="4224">modprobe</text></g>
<g id="p4228"><rect class="b" x="696.5" y="4228.5" width="67" height="15"/><rect class="sp" x="697" y="4229" width="19" height="14"/><text class="l" x="768" y="4240">S91apache2</text></g>
<g id="p4244"><rect class="b" x="716.5" y="4244.5" width="46" height="15"/><text class="l" x="767" y="4256">apache2ctl</text></g>
<g id="p4260"><rect class="p" x="718.5" y="4260.5" width="44" height="15"/><rect class="b" x="751" y="4261" width="3" height="14" stroke="none"/><text class="l" x="767" y="4272">apache2</text></g>
<g id="p4276"><rect class="b" x="723.5" y="4276.5" width="107" height="15"/><text class="l m" x="776" y="4288">debian-start</text></g>
<g id="p4292"><rect class="p" x="723.5" y="4292.5" width="25" height="15"/><text class="l" x="753" y="4304">debian-start</text></g>
<g id="p4308"><rect class="b" x="747.5" y="4308.5" width="21" height="15"/><text class="l" x="773" y="4320">mysql_upgrade</text></g>
<g id="p4324"><rect class="b" x="750.5" y="4324.5" width="15" height="15"/><text class="l" x="770" y="4336">sh</text></g>
<g id="p4340"><rect class="p" x="750.5" y="4340.5" width="5" height="15"/><text class="l" x="760" y="4352">sh</text></g>
<g id="p4356"><rect class="p" x="755.5" y="4356.5" width="10" height="15"/><text class="l" x="770" y="4368">mysql</text></g>
<g id="p4372"><rect class="b" x="747.5" y="4372.5" width="21" height="15"/><text class="l" x="773" y="4384">egrep</text></g>
<g id="p4388"><rect class="b" x="747.5" y="4388.5" width="21" height="15"/><text class="l" x="773" y="4400">logger</text></g>
<g id="p4404"><rect class="p" x="771.5" y="4404.5" width="17" height="15"/><text class="l" x="793" y="4416">debian-start</text></g>
<g id="p4420"><rect class="b" x="788.5" y="4420.5" width="14" height="15"/><text class="l" x="807" y="4432">mysql</text></g>
<g id="p4436"><rect class="b" x="788.5" y="4436.5" width="36" height="15"/><text class="l" x="829" y="4448">xargs</text></g>
<g id="p4452"><rect class="b" x="804.5" y="4452.5" width="16" height="15"/><text class="l" x="825" y="4464">mysql</text></g>
<g id="p4468"><rect class="b" x="824.5" y="4468.5" width="6" height="15"/><text class="l" x="835" y="4480">rm</text></g>
<g id="p4484"><rect class="b" x="745.5" y="4484.5" width="359" height="15"/><text class="l m" x="925" y="4496">dbus-daemon</text></g>
<g id="p4500"><rect class="b" x="807.5" y="4500.5" width="5" height="15"/><text class="l" x="817" y="4512">dbus-daemon</text></g>
<g id="p4516"><rect class="b" x="807.5" y="4516.5" width="297" height="15"/><rect class="sp" x="808" y="4517" width="14" height="14"/><rect class="sb" x="822" y="4517" width="1" height="14"/><rect class="sp" x="843" y="4517" width="4" height="14"/><rect class="sp" x="913" y="4517" width="4" height="14"/><text class="l m" x="956" y="4528">gconfd-2</text></g>
<g id="p4532"><rect class="b" x="870.5" y="4532.5" width="234" height="15"/><text class="l m" x="987" y="4544">gvfsd</text></g>
<g id="p4548"><rect class="b" x="763.5" y="4548.5" width="341" height="15"/><rect class="sp" x="764" y="4549" width="53" height="14"/><text class="l m" x="934" y="4560">apache2</text></g>
<g id="p4564"><rect class="b" x="763.5" y="4564.5" width="97" height="15"/><rect class="sp" x="764" y="4565" width="5" height="14"/><text class="l" x="865" y="4576">S99acpi-support</text></g>
<g id="p4580"><rect class="b" x="768.5" y="4580.5" width="91" height="15"/><text class="l m" x="813" y="4592">power.sh</text></g>
<g id="p4596"><rect class="p" x="769.5" y="4596.5" width="20" height="15"/><text class="l" x="794" y="4608">power.sh</text></g>
<g id="p4612"><rect class="b" x="789.5" y="4612.5" width="69" height="15"/><rect class="sp" x="790" y="4613" width="10" height="14"/><text class="l" x="863" y="4624">pm-powersave</text></g>
<g id="p4628"><rect class="b" x="800.5" y="4628.5" width="20" height="15"/><text class="l" x="825" y="4640">pm-powersave</text></g>
<g id="p4644"><rect class="p" x="800.5" y="4644.5" width="11" height="15"/><text class="l" x="816" y="4656">pm-powersave</text></g>
<g id="p4660"><rect class="p" x="800.5" y="4660.5" width="11" height="15"/><text class="l" x="816" y="4672">uniq</text></g>
<g id="p4676"><rect class="b" x="822.5" y="4676.5" width="31" height="15"/><text class="l" x="858" y="4688">journal-commit</text></g>
<g id="p4692"><rect class="p" x="822.5" y="4692.5" width="31" height="15"/><text class="l" x="858" y="4704">mount</text></g>
<g id="p4708"><rect class="p" x="853.5" y="4708.5" width="5" height="15"/><text class="l" x="863" y="4720">pm-powersave</text></g>
<g id="p4724"><rect class="b" x="858.5" y="4724.5" width="9" height="15"/><text class="l" x="872" y="4736">S99grub-common</text></g>
<g id="p4740"><rect class="p" x="861.5" y="4740.5" width="6" height="15"/><text class="l" x="872" y="4752">grub-editenv</text></g>
<g id="p4756"><rect class="b" x="867.5" y="4756.5" width="237" height="15"/><text class="l m" x="986" y="4768">ondemand</text></g>
<g id="p4772"><rect class="b" x="867.5" y="4772.5" width="237" height="15"/><text class="l m" x="986" y="4784">sleep</text></g>
<g id="p4788"><rect class="b" x="869.5" y="4788.5" width="3" height="15"/><text class="l" x="877" y="4800">S99rc.local</text></g>
<g id="p4804"><rect class="b" x="872.5" y="4804.5" width="232" height="15"/><text class="l m" x="988" y="4816">sh</text></g>
<g id="p4820"><rect class="b" x="872.5" y="4820.5" width="232" height="15"/><text class="l m" x="988" y="4832">sleep</text></g>
<g id="p4836"><rect class="b" x="872.5" y="4836.5" width="232" height="15"/><text class="l m" x="988" y="4848">sleep</text></g>
<g id="p4852"><rect class="b" x="872.5" y="4852.5" width="232" height="15"/><text class="l m" x="988" y="4864">getty</text></g>
<g id="p4868"><rect class="b" x="936.5" y="4868.5" width="53" height="15"/><text class="l" x="994" y="4880">pm-powersave</text></g>
<g id="p4884"><rect class="b" x="937.5" y="4884.5" width="4" height="15"/><text class="l" x="946" y="4896">95hdparm-apm</text></g>
<g id="p4900"><rect class="b" x="939.5" y="4900.5" width="4" height="15"/><text class="l" x="948" y="4912">hdparm</text></g>
<g id="p4916"><rect class="b" x="940.5" y="4916.5" width="47" height="15"/><text class="l" x="992" y="4928">journal-commit</text></g>
<g id="p4932"><rect class="p" x="940.5" y="4932.5" width="47" height="15"/><text class="l m" x="963" y="4944">mount</text></g>
<g id="p4948"><rect class="b" x="1014.5" y="4948.5" width="3" height="15"/><text class="l e" x="1009" y="4960">gdm-simple-gree</text></g>
<g id="p4964"><rect class="b" x="1021.5" y="4964.5" width="7" height="15"/><text class="l" x="1033" y="4976">ck-history</text></g>
<g id="p4980"><rect class="b" x="10.5" y="4980.5" width="1094" height="15"/><text class="l m" x="557" y="4992">kthreadd</text></g>
<g id="p4996"><rect class="b" x="10.5" y="4996.5" width="1094" height="15"/><text class="l m" x="557" y="5008">ksoftirqd/0</text></g>
<g id="p5012"><rect class="b" x="10.5" y="5012.5" width="1094" height="15"/><text class="l m" x="557" y="5024">kworker/1:0</text></g>
<g id="p5028"><rect class="b" x="10.5" y="5028.5" width="1094" height="15"/><text class="l m" x="557" y="5040">ksoftirqd/1</text></g>
<g id="p5044"><rect class="b" x="11.5" y="5044.5" width="1093" height="15"/><rect class="sp" x="266" y="5045" width="184" height="14"/><rect class="sb" x="293" y="5045" width="1" height="14"/><rect class="b" x="300" y="5045" width="1" height="14" stroke="none"/><rect class="b" x="340" y="5045" width="1" height="14" stroke="none"/><rect class="b" x="392" y="5045" width="1" height="14" stroke="none"/><rect class="b" x="420" y="5045" width="1" height="14" stroke="none"/><text class="l m" x="558" y="5056">kworker/0:1</text></g>
<g id="p5060"><rect class="b" x="16.5" y="5060.5" width="1088" height="15"/><rect class="sp" x="45" y="5061" width="9" height="14"/><text class="l m" x="560" y="5072">khubd</text></g>
<g id="p5076"><rect class="b" x="18.5" y="5076.5" width="1086" height="15"/><rect class="sp" x="187" y="5077" width="1" height="14"/><rect class="sp" x="195" y="5077" width="1" height="14"/><text class="l m" x="561" y="5088">fsnotify_mark</text></g>
<g id="p5092"><rect class="b" x="23.5" y="5092.5" width="1081" height="15"/><text class="l m" x="564" y="5104">kworker/u:2</text></g>
<g id="p5108"><rect class="p" x="264.5" y="5108.5" width="19" height="15"/><text class="l" x="288" y="5120">modprobe</text></g>
<g id="p5124"><rect class="b" x="297.5" y="5124.5" width="39" height="15"/><text class="l" x="341" y="5136">kworker/u:2</text></g>
<g id="p5140"><rect class="p" x="297.5" y="5140.5" width="39" height="15"/><rect class="b" x="304" y="5141" width="13" height="14" stroke="none"/><text class="l" x="341" y="5152">modprobe</text></g>
<g id="p5156"><rect class="b" x="41.5" y="5156.5" width="1063" height="15"/><text class="l m" x="573" y="5168">kworker/0:2</text></g>
<g id="p5172"><rect class="b" x="60.5" y="5172.5" width="1044" height="15"/><rect class="sp" x="286" y="5173" width="19" height="14"/><rect class="sp" x="675" y="5173" width="8" height="14"/><rect class="sp" x="806" y="5173" width="4" height="14"/><rect class="sp" x="823" y="5173" width="17" height="14"/><rect class="sp" x="943" y="5173" width="25" height="14"/><rect class="sp" x="980" y="5173" width="6" height="14"/><text class="l m" x="582" y="5184">jbd2/sda5-8</text></g>
<g id="p5188"><rect class="b" x="264.5" y="5188.5" width="840" height="15"/><text class="l m" x="684" y="5200">kpsmoused</text></g>
<g id="p5204"><rect class="b" x="265.5" y="5204.5" width="839" height="15"/><rect class="sp" x="266" y="5205" width="6" height="14"/><text class="l m" x="685" y="5216">pccardd</text></g>
<g id="p5220"><rect class="b" x="266.5" y="5220.5" width="838" height="15"/><text class="l m" x="685" y="5232">cfg80211</text></g>
<g id="p5236"><rect class="b" x="282.5" y="5236.5" width="822" height="15"/><rect class="sp" x="841" y="5237" width="5" height="14"/><rect class="sp" x="979" y="5237" width="7" height="14"/><text class="l m" x="693" y="5248">flush-8:0</text></g>
<g id="p5252"><rect class="b" x="297.5" y="5252.5" width="807" height="15"/><text class="l m" x="701" y="5264">kworker/0:3</text></g>
<g id="p5268"><rect class="b" x="297.5" y="5268.5" width="807" height="15"/><text class="l m" x="701" y="5280">hd-audio0</text></g>
<g id="p5284"><rect class="b" x="315.5" y="5284.5" width="789" height="15"/><text class="l m" x="710" y="5296">ttm_swap</text></g>
<g id="p5300"><rect class="b" x="316.5" y="5300.5" width="788" height="15"/><text class="l m" x="710" y="5312">iwl3945</text></g>
<g id="p5316"><rect class="p" x="326.5" y="5316.5" width="11" height="15"/><text class="l" x="342" y="5328">cryptomgr_probe</text></g>
<g id="p5332"><rect class="b" x="336.5" y="5332.5" width="768" height="15"/><text class="l m" x="720" y="5344">ktpacpid</text></g>
</g>
<rect class="fr" x="10.5" y="292.5" width="1094" height="5056"/>
<text x="16" y="5341" font-size="14" fill="#b4b4b4">http://code.google.com/p/pybootchartgui</text>
</svg>
